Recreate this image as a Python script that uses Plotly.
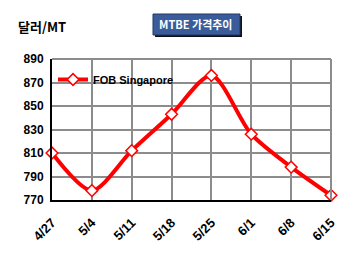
import plotly.graph_objects as go

dates = ["4/27", "5/4", "5/11", "5/18", "5/25", "6/1", "6/8", "6/15"]
fob_singapore = [810, 778, 812, 843, 876, 826, 798, 774]
y_ticks = [770, 790, 810, 830, 850, 870, 890]

W, H = 350, 253
L, R, T, B = 52, 19, 59, 53
pw, ph = W - L - R, H - T - B

def px(x):
    return (x - L) / pw

def py(y):
    return (H - B - y) / ph

fig = go.Figure()
fig.add_trace(go.Scatter(
    x=dates, y=fob_singapore, mode="lines+markers", name="FOB Singapore",
    line=dict(color="#FF0000", width=4, shape="spline", smoothing=0.8),
    marker=dict(symbol="diamond", size=9, color="white",
                line=dict(color="#FF0000", width=1.5)),
    cliponaxis=False,
))

bold = dict(family="Liberation Sans, Arial", size=12, color="black", weight="bold")
xbold = dict(family="Liberation Sans, Arial", size=13, color="black", weight="bold")

fig.update_layout(
    width=W, height=H,
    margin=dict(l=L, r=R, t=T, b=B),
    paper_bgcolor="white", plot_bgcolor="white",
    showlegend=True,
    legend=dict(x=px(53), y=py(65), xanchor="left", yanchor="top",
                bgcolor="rgba(0,0,0,0)",
                font=dict(family="Liberation Sans, Arial", size=11, color="black", weight="bold"),
                itemwidth=30, tracegroupgap=0),
    xaxis=dict(type="category", range=[0, 7], tickangle=-45, automargin=False,
               showgrid=True, gridcolor="#8c8c8c", gridwidth=2,
               showline=True, linecolor="black", linewidth=2,
               ticks="", tickfont=xbold, ticklabelstandoff=8,
               mirror=False, zeroline=False),
    yaxis=dict(range=[770, 890], tickvals=y_ticks, automargin=False,
               showgrid=True, gridcolor="#8c8c8c", gridwidth=2,
               showline=True, linecolor="black", linewidth=2,
               ticks="", tickfont=bold, ticklabelstandoff=4, zeroline=False),
    shapes=[
        dict(type="line", xref="paper", yref="paper", x0=0, x1=1, y0=1, y1=1,
             line=dict(color="#8c8c8c", width=2)),
        dict(type="line", xref="paper", yref="paper", x0=1, x1=1, y0=0, y1=1,
             line=dict(color="#8c8c8c", width=2)),
        dict(type="rect", xref="paper", yref="paper",
             x0=px(155), x1=px(242), y0=py(37), y1=py(16),
             fillcolor="#111111", line=dict(width=0), layer="above"),
        dict(type="rect", xref="paper", yref="paper",
             x0=px(153), x1=px(240), y0=py(35), y1=py(14),
             fillcolor="#3B5C9A", line=dict(color="#1F3864", width=1), layer="above"),
    ],
    annotations=[
        dict(text="MTBE 가격추이", xref="paper", yref="paper",
             x=px(196.5), y=py(24.5), xanchor="center", yanchor="middle",
             showarrow=False,
             font=dict(family="Noto Sans CJK KR", size=11, color="white", weight="bold")),
        dict(text="달러/MT", xref="paper", yref="paper",
             x=px(16), y=py(27), xanchor="left", yanchor="middle",
             showarrow=False,
             font=dict(family="Noto Sans CJK KR", size=13, color="black", weight="bold")),
    ],
)

fig.write_html("out.html")
